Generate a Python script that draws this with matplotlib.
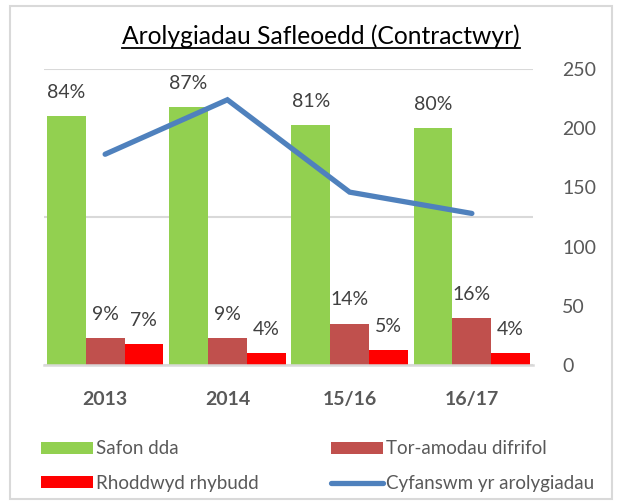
import matplotlib
matplotlib.use('Agg')
import matplotlib.pyplot as plt
from matplotlib.patches import Rectangle
from matplotlib.lines import Line2D
import numpy as np

# data
categories = ['2013', '2014', '15/16', '16/17']
safon_dda = [84, 87, 81, 80]          # %
tor_amodau = [9, 9, 14, 16]           # %
rhybudd = [7, 4, 5, 4]                # %
cyfanswm = [178, 224, 146, 128]       # nifer arolygiadau

labels = ['Safon dda', 'Tor-amodau difrifol', 'Rhoddwyd rhybudd', 'Cyfanswm yr arolygiadau']
colors = ['#92D050', '#C0504D', '#FF0000']
line_color = '#4F81BD'
grey_txt = '#595959'
grid_col = '#D9D9D9'

plt.rcParams['font.family'] = ['Lato', 'DejaVu Sans']

W, H = 621, 504
fig = plt.figure(figsize=(W / 100, H / 100), dpi=100)
ax = fig.add_axes([44 / W, (H - 365) / H, 489 / W, 296 / H])
ax2 = ax.twinx()

x = np.arange(len(categories))
bw = 0.317
series = [safon_dda, tor_amodau, rhybudd]
bars = []
for i, (vals, c) in enumerate(zip(series, colors)):
    b = ax.bar(x + (i - 1) * bw, vals, bw, color=c, label=labels[i], zorder=2)
    bars.append(b)
    for xi, v in zip(x + (i - 1) * bw, vals):
        ax.annotate(f'{v}%', (xi, v), xytext=(0, 17), textcoords='offset points',
                    ha='center', va='center', fontsize=14, color='#404040')

ax.set_ylim(0, 100)
ax.set_yticks([0, 50, 100])
ax.yaxis.grid(True, color=grid_col, lw=1.5, zorder=0)
ax.set_axisbelow(True)
ax.tick_params(axis='y', left=False, labelleft=False)
ax.set_xlim(-0.5, len(categories) - 0.5)
ax.set_xticks(x)
ax.set_xticklabels(categories, fontsize=14, fontweight='bold', color=grey_txt)
ax.tick_params(axis='x', length=0, pad=19)
for s in ['top', 'left', 'right']:
    ax.spines[s].set_visible(False)
ax.spines['bottom'].set_color(grid_col)
ax.spines['bottom'].set_linewidth(1.8)

ln, = ax2.plot(x, cyfanswm, color=line_color, lw=3.8, solid_capstyle='round',
               solid_joinstyle='miter', label=labels[3], zorder=3)
ax2.set_ylim(0, 250)
ax2.set_yticks(range(0, 251, 50))
ax2.tick_params(axis='y', length=0, pad=21, labelsize=14, labelcolor=grey_txt)
for s in ax2.spines.values():
    s.set_visible(False)

# teitl gyda llinell oddi tano
title_y = (H - 43.5) / H
t = fig.text(321 / W, title_y, 'Arolygiadau Safleoedd (Contractwyr)', ha='center',
             va='baseline', fontsize=17.7, color='black')
fig.canvas.draw()
bb = t.get_window_extent()
uy = (H - 47.5) / H
fig.add_artist(Line2D([bb.x0 / W, bb.x1 / W], [uy, uy], color='black', lw=1.3,
                      transform=fig.transFigure))

# legend - dwy golofn ar wahân
leg_kw = dict(loc='lower left', bbox_transform=fig.transFigure, frameon=False,
              fontsize=13.5, labelcolor=grey_txt, handlelength=2.75,
              handleheight=0.62, handletextpad=0.2, labelspacing=0.95,
              borderpad=0, borderaxespad=0)
fig.legend([bars[0], bars[2]], [labels[0], labels[2]],
           bbox_to_anchor=(41 / W, (H - 492) / H), **leg_kw)
fig.legend([bars[1], ln], [labels[1], labels[3]],
           bbox_to_anchor=(331 / W, (H - 492) / H), **leg_kw)

# ffrâm y siart
fig.add_artist(Rectangle((10 / W, (H - 499) / H), 602 / W, 493 / H, fill=False,
                         edgecolor=grid_col, lw=1.5, transform=fig.transFigure))

fig.savefig('out.png', dpi=100)
